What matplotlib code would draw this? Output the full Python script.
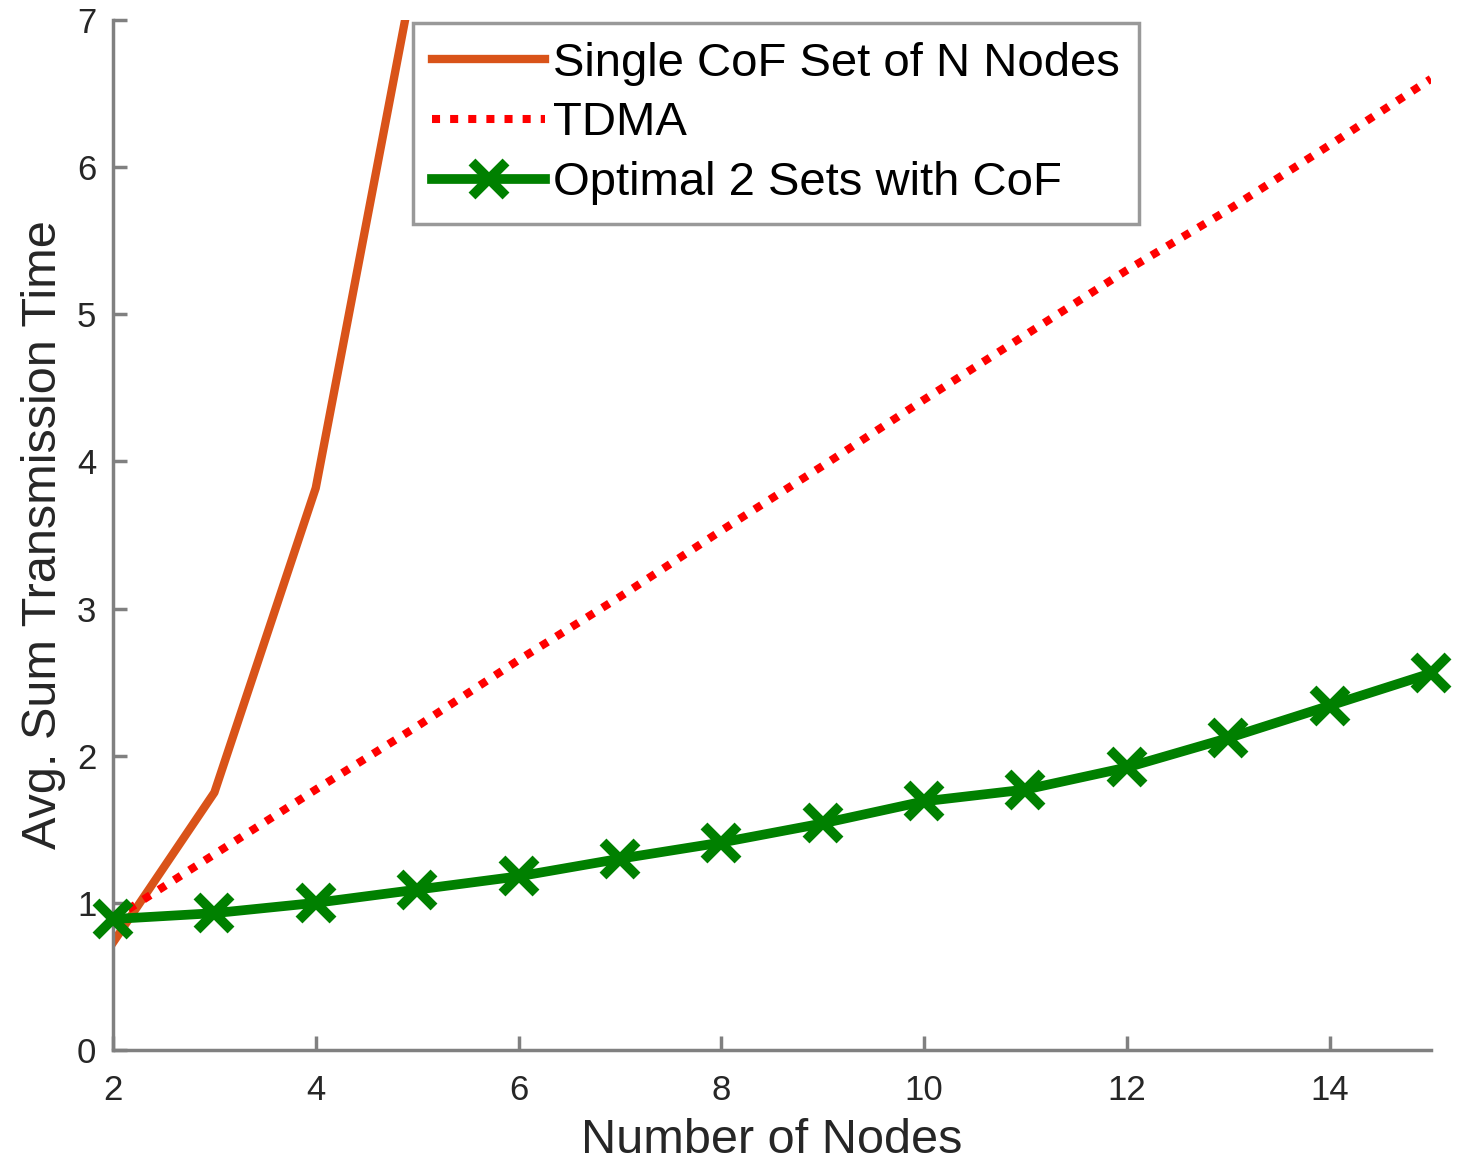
import matplotlib
matplotlib.use("Agg")
import matplotlib.pyplot as plt

plt.rcParams['font.family'] = ['Liberation Sans', 'DejaVu Sans']

# data
nodes = [2, 3, 4, 5, 6, 7, 8, 9, 10, 11, 12, 13, 14, 15]
single_nodes = [2, 3, 4, 5]
single_cof = [0.73, 1.75, 3.82, 7.43]
tdma = [0.89, 1.33, 1.77, 2.20, 2.65, 3.08, 3.53, 3.97, 4.42, 4.86, 5.30, 5.71, 6.15, 6.60]
optimal = [0.89, 0.93, 1.00, 1.09, 1.18, 1.30, 1.41, 1.54, 1.69, 1.77, 1.92, 2.12, 2.34, 2.56]

fig = plt.figure(figsize=(14.63, 11.64), dpi=100)
ax = fig.add_axes([113/1463, 1 - 1050/1164, (1431-113)/1463, (1050-20)/1164])

ax.plot(single_nodes, single_cof, color='#D95319', lw=6, label='Single CoF Set of N Nodes')
ax.plot(nodes, tdma, color='#FF0000', lw=5.8, ls=(0, (1, 1.25)), label='TDMA')
ax.plot(nodes, optimal, color='#008000', lw=7, marker='x', ms=24, mew=7,
        label='Optimal 2 Sets with CoF', clip_on=False, zorder=5)

ax.set_xlim(2, 15)
ax.set_ylim(0, 7)
ax.set_xticks([2, 4, 6, 8, 10, 12, 14])
ax.set_yticks([0, 1, 2, 3, 4, 5, 6, 7])

for s in ['top', 'right']:
    ax.spines[s].set_visible(False)
for s in ['left', 'bottom']:
    ax.spines[s].set_color('#808080')
    ax.spines[s].set_linewidth(2.5)

ax.tick_params(direction='in', length=10, width=2.5, color='#808080',
               labelsize=25, labelcolor='#262626')
ax.tick_params(axis='x', pad=17)
ax.tick_params(axis='y', pad=12)

ax.set_xlabel('Number of Nodes', fontsize=35, color='#262626', labelpad=8)
ax.set_ylabel('Avg. Sum Transmission Time', fontsize=35, color='#262626', labelpad=8)

leg = ax.legend(loc='upper left', bbox_to_anchor=((413-113)/1318, (1050-23)/1030),
                fontsize=34, frameon=True, fancybox=False, handlelength=2.4,
                handletextpad=0.17, borderpad=0.4, labelspacing=0.33, borderaxespad=0)
leg.get_frame().set_edgecolor('#808080')
leg.get_frame().set_linewidth(2.5)

fig.savefig('out.png', dpi=100)
